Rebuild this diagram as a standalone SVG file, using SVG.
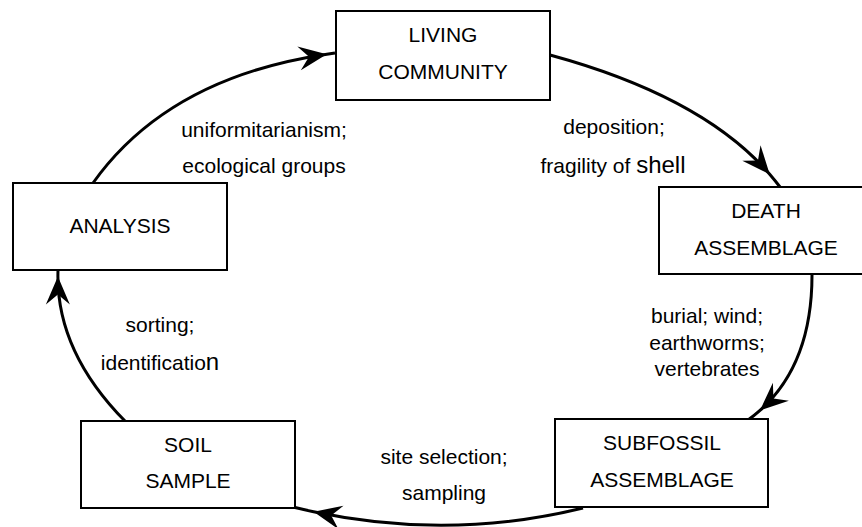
<svg xmlns="http://www.w3.org/2000/svg" width="862" height="527" viewBox="0 0 862 527">
<style>
.box{fill:#fff;stroke:#000;stroke-width:2}
.t{font-family:"Liberation Sans",Arial,sans-serif;font-size:21px;fill:#000;text-anchor:middle}
.c{fill:none;stroke:#000;stroke-width:3;marker-mid:url(#ah)}
.big{font-size:24px}
</style>
<defs>
<marker id="ah" markerUnits="userSpaceOnUse" markerWidth="40" markerHeight="40" refX="0" refY="0" orient="auto" overflow="visible">
<path d="M0,0 L-28,-12 L-18,0 L-28,12 Z" fill="#000"/>
</marker>
</defs>
<rect width="862" height="527" fill="#fff"/>
<g id="connectors">
<path class="c" d="M93,183 Q168.1,77.7 326.8,54.2 Q330.9,53.6 335,53"/>
<path class="c" d="M550,55 Q702.6,96.6 769.7,174.2 Q775.1,180.5 780,187"/>
<path class="c" d="M812,275 C812,333.5 794.2,379.9 760,410.4 C756.2,413.8 752.2,417 748,420"/>
<path class="c" d="M583,508 Q450,540.6 313.6,511.7 Q303.3,509.5 293,507"/>
<path class="c" d="M125,421 Q57.8,352.8 57.9,276.4 Q57.9,273.2 58,270"/>
</g>
<g id="living">
<rect class="box" x="336" y="11" width="214" height="89"/>
<text class="t" x="443" y="42">LIVING</text>
<text class="t" x="443" y="79">COMMUNITY</text>
</g>
<g id="death">
<rect class="box" x="659" y="187" width="214" height="87"/>
<text class="t" x="766" y="218">DEATH</text>
<text class="t" x="766" y="255">ASSEMBLAGE</text>
</g>
<g id="subfossil">
<rect class="box" x="555" y="419" width="213" height="88"/>
<text class="t" x="662" y="450">SUBFOSSIL</text>
<text class="t" x="662" y="487">ASSEMBLAGE</text>
</g>
<g id="soil">
<rect class="box" x="81" y="421" width="214" height="87"/>
<text class="t" x="188" y="452">SOIL</text>
<text class="t" x="188" y="488">SAMPLE</text>
</g>
<g id="analysis">
<rect class="box" x="13" y="183" width="214" height="87"/>
<text class="t" x="120" y="233">ANALYSIS</text>
</g>
<g id="labels">
<text class="t" x="264" y="137">uniformitarianism;</text>
<text class="t" x="264" y="173">ecological groups</text>
<text class="t" x="614" y="134">deposition;</text>
<text class="t" x="613" y="173">fragility of <tspan class="big">shell</tspan></text>
<text class="t" x="707" y="323">burial; wind;</text>
<text class="t" x="707" y="350">earthworms;</text>
<text class="t" x="707" y="376">vertebrates</text>
<text class="t" x="444" y="464">site selection;</text>
<text class="t" x="444" y="500">sampling</text>
<text class="t" x="160" y="332">sorting;</text>
<text class="t" x="160" y="370">identificatio<tspan class="big">n</tspan></text>
</g>
</svg>
